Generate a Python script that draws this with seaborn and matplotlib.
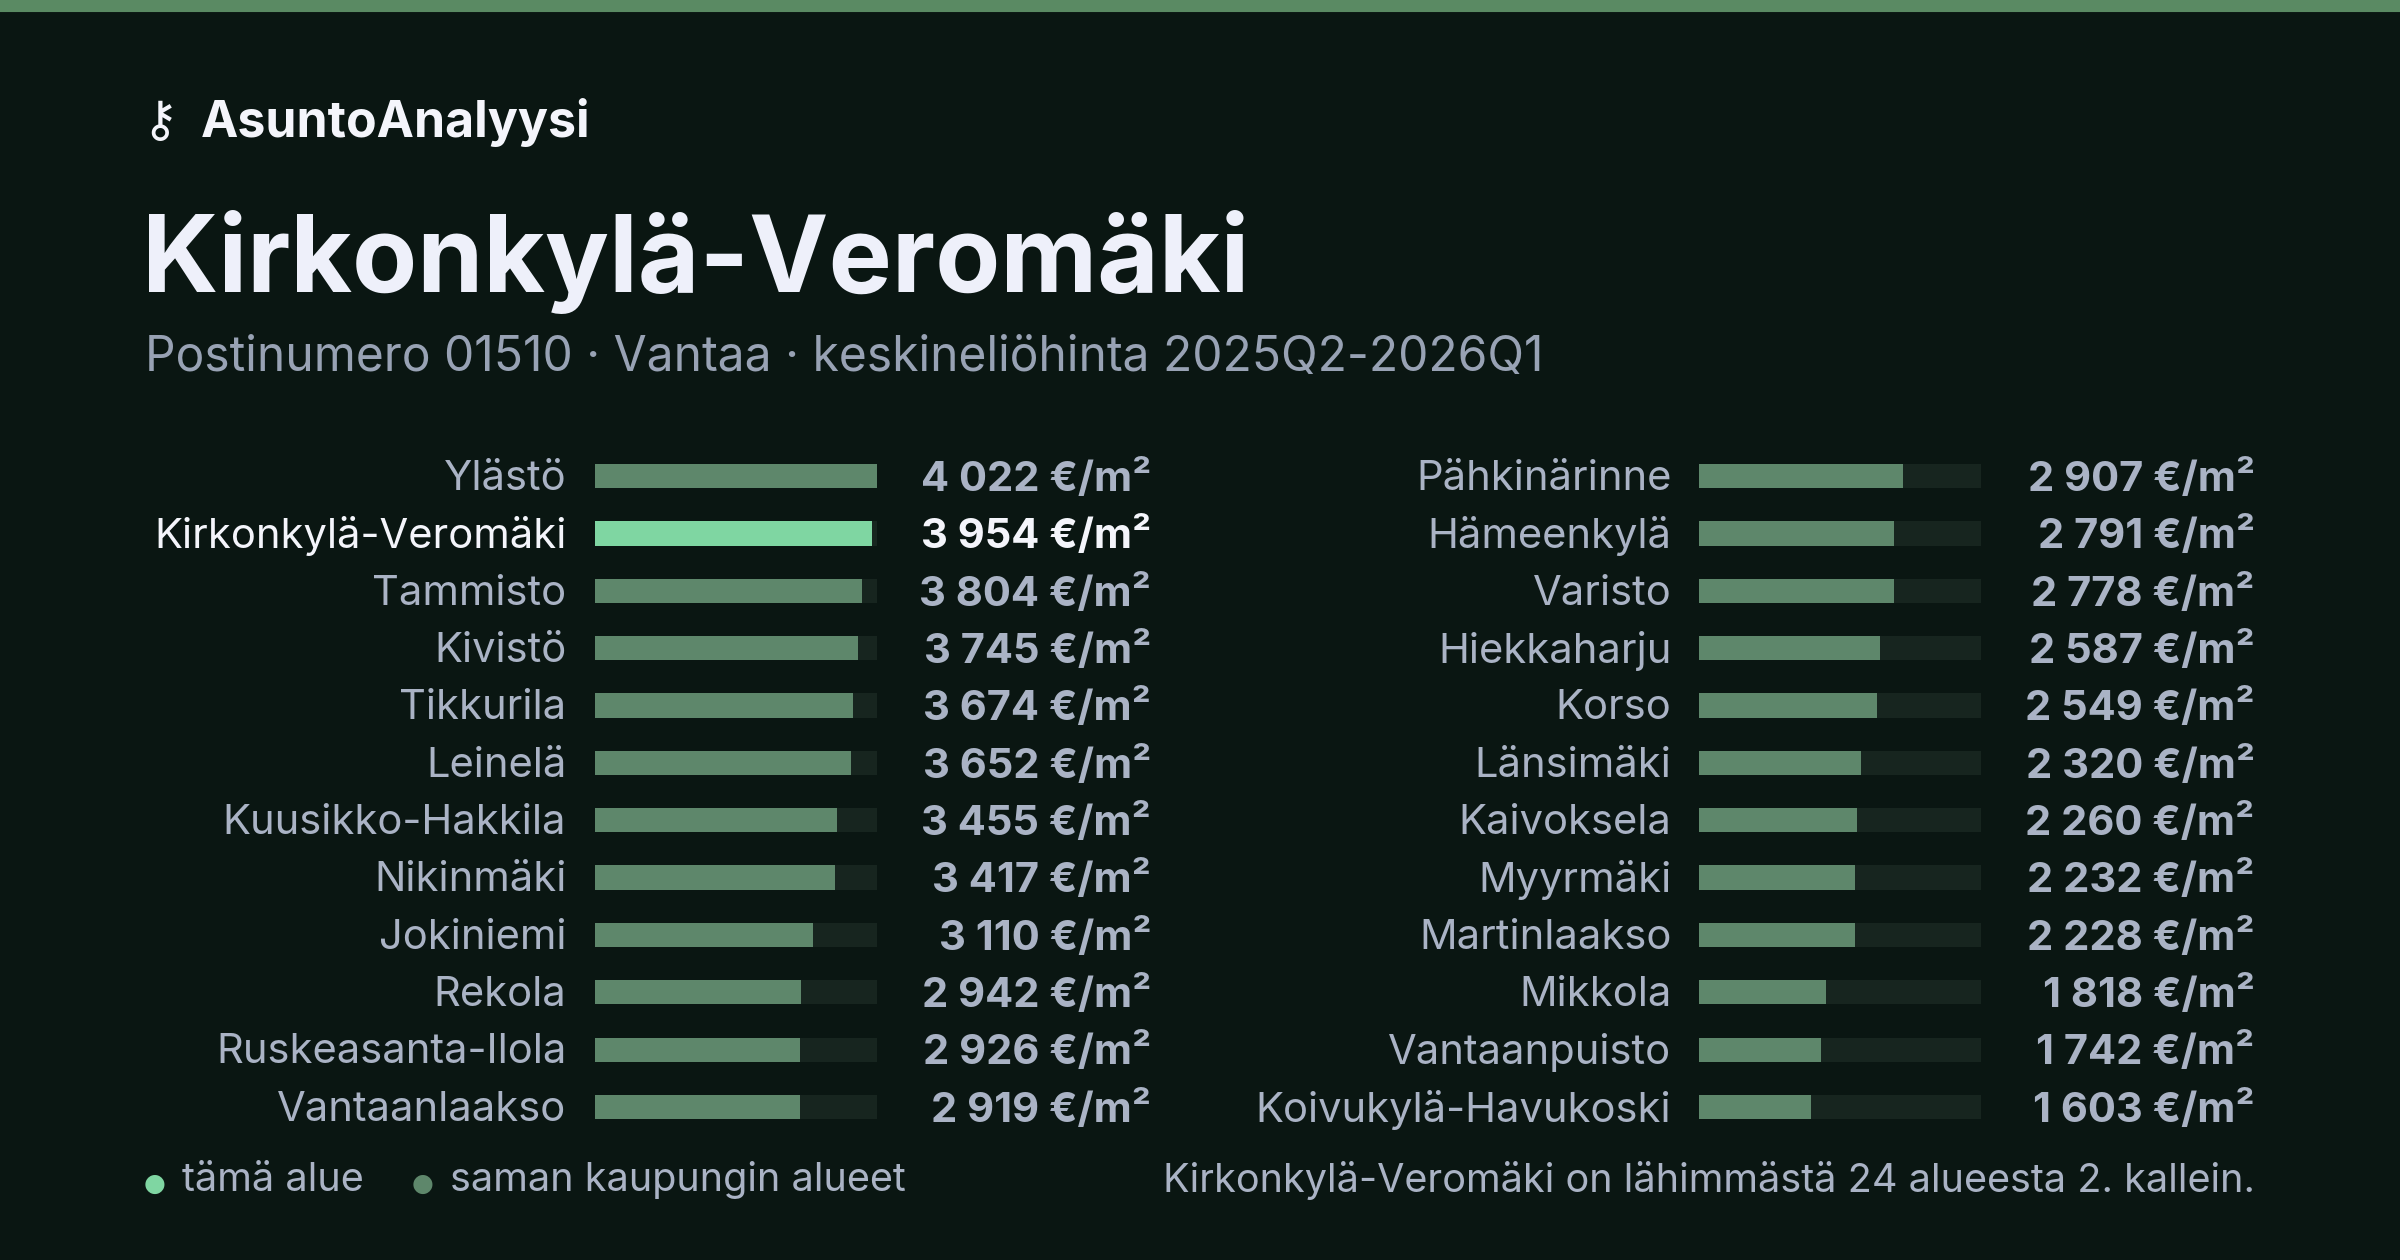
import matplotlib
matplotlib.use("Agg")
import matplotlib.pyplot as plt
import seaborn as sns
import pandas as pd

left_names = ["Ylästö","Kirkonkylä-Veromäki","Tammisto","Kivistö","Tikkurila","Leinelä",
              "Kuusikko-Hakkila","Nikinmäki","Jokiniemi","Rekola","Ruskeasanta-Ilola","Vantaanlaakso"]
left_vals = [4022,3954,3804,3745,3674,3652,3455,3417,3110,2942,2926,2919]
right_names = ["Pähkinärinne","Hämeenkylä","Varisto","Hiekkaharju","Korso","Länsimäki",
               "Kaivoksela","Myyrmäki","Martinlaakso","Mikkola","Vantaanpuisto","Koivukylä-Havukoski"]
right_vals = [2907,2791,2778,2587,2549,2320,2260,2232,2228,1818,1742,1603]
highlight = "Kirkonkylä-Veromäki"

BG = "#0a1612"; TRACK = "#17251f"; FILL = "#5e876b"; HI = "#7fd6a2"
LBL = "#aab3c5"; WHITE = "#f4f5fb"

sns.set_theme(style="white")
plt.rcParams['font.family'] = ['Inter', 'DejaVu Sans']

W, H = 1568, 823
fig = plt.figure(figsize=(16, 8.4), dpi=150, facecolor=BG)

def fx(x): return x / W
def fy(y): return 1 - y / H

fig.patches.append(plt.Rectangle((0, fy(7)), 1, 7 / H, transform=fig.transFigure, color="#5a8a63"))

fig.text(fx(104), fy(80), "⚷", color=WHITE, fontsize=24, va="center", ha="center", family="DejaVu Sans")
fig.text(fx(131), fy(80), "AsuntoAnalyysi", color=WHITE, fontsize=24, weight="bold", va="center")
fig.text(fx(93), fy(171), "Kirkonkylä-Veromäki", color="#eef0fa", fontsize=51, weight="bold", va="center")
fig.text(fx(95), fy(234), "Postinumero 01510 · Vantaa · keskineliöhinta 2025Q2-2026Q1",
         color="#98a2b4", fontsize=23, va="center")

step = (723 - 311) / 11
top = 311 - step / 2
bot = 723 + step / 2
maxv = max(left_vals + right_vals)

def column(x0, x1, names, vals, lab_x, val_x):
    ax = fig.add_axes([fx(x0), fy(bot), fx(x1) - fx(x0), (bot - top) / H])
    ax.set_facecolor("none")
    df = pd.DataFrame({"name": names, "val": vals, "full": [maxv] * len(vals)})
    sns.barplot(data=df, x="full", y="name", color=TRACK, width=0.42, ax=ax, saturation=1, linewidth=0)
    cols = [HI if n == highlight else FILL for n in names]
    sns.barplot(data=df, x="val", y="name", hue="name", palette=cols, width=0.42, ax=ax,
                saturation=1, legend=False, linewidth=0)
    ax.set_xlim(0, maxv)
    ax.set_ylim(len(names) - 0.5, -0.5)
    ax.axis("off")
    tr = ax.get_yaxis_transform()
    w = x1 - x0
    for i, (n, v) in enumerate(zip(names, vals)):
        hi = n == highlight
        ax.text((lab_x - x0) / w, i + 0.05, n, transform=tr, ha="right", va="center",
                fontsize=20, color=WHITE if hi else LBL)
        s = f"{v:,}".replace(",", " ") + " €/m²"
        ax.text((val_x - x0) / w, i + 0.05, s, transform=tr, ha="right", va="center",
                fontsize=20, weight="bold", color=WHITE if hi else LBL)

column(389, 573, left_names, left_vals, 370, 752)
column(1110, 1294, right_names, right_vals, 1092, 1473)

fig.text(fx(101), fy(773), "●", color=HI, fontsize=12, ha="center", va="center", family="DejaVu Sans")
fig.text(fx(119), fy(771), "tämä alue", color=LBL, fontsize=19, va="center")
fig.text(fx(276), fy(773), "●", color=FILL, fontsize=12, ha="center", va="center", family="DejaVu Sans")
fig.text(fx(294), fy(771), "saman kaupungin alueet", color=LBL, fontsize=19, va="center")
fig.text(fx(1473), fy(771), "Kirkonkylä-Veromäki on lähimmästä 24 alueesta 2. kallein.",
         color=LBL, fontsize=19, va="center", ha="right")

fig.savefig("out.png", dpi=150, facecolor=BG)
